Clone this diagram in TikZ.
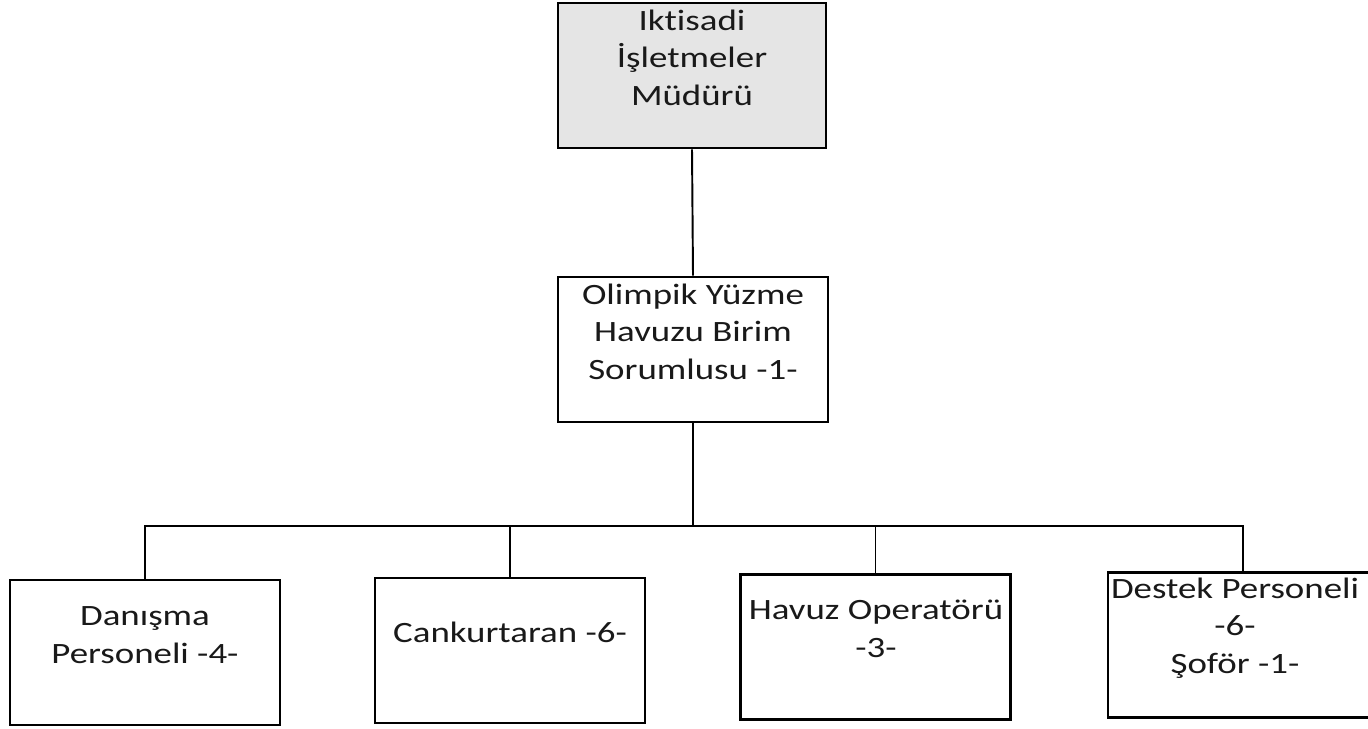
\documentclass[tikz,border=0pt]{standalone}
\usepackage{fontspec}
\setmainfont{Carlito}[FakeStretch=1.25,Ligatures={NoCommon}]
\usetikzlibrary{positioning}

\begin{document}
\begin{tikzpicture}[x=0.02cm,y=-0.02cm]
\tikzstyle{unit}=[
  rectangle,
  draw,
  line width=1.5pt,
  minimum width=5.4cm,
  minimum height=2.9cm,
  inner sep=0pt ]
\tikzstyle{caption}=[
  align=center,
  inner sep=0pt,
  anchor=base,
  text=black!90,
  font=\fontsize{16.8}{21.3}\selectfont ]
\tikzstyle{link}=[line width=1.1pt]
\useasboundingbox (0,0) rectangle (1368,728);
\clip (0,0) rectangle (1368,728);
% kutular
\node[unit, fill=black!10, minimum width=5.36cm] (mudur) at (692,75.5) {};
\node[unit] (sorumlu) at (693,349.5) {};
\node[unit] (danisma) at (145,652.5) {};
\node[unit] (cankurtaran) at (510,650.5) {};
\node[unit] (operator) at (875.5,647) {};
\node[unit] (destek) at (1243,645) {};
% yazilar (son satirin tabani)
\node[caption] (mudurT) at (692,105) {Iktisadi\\İşletmeler\\Müdürü};
\node[caption] (sorumluT) at (693,379) {Olimpik Yüzme\\Havuzu Birim\\Sorumlusu -1-};
\node[caption] (danismaT) at (145,663) {Danışma\\Personeli -4-};
\node[caption] (cankurtaranT) at (510,642) {Cankurtaran -6-};
\node[caption] (operatorT) at (876,657) {Havuz Operatörü\\-3-};
\node[caption] (destekT) at (1235,673) {Destek Personeli\\-6-\\Şoför -1-};
% baglantilar
\coordinate (bus) at (0,526);
\draw[link] (mudur.south) -- (sorumlu.north);
\draw[link] (sorumlu.south) -- (sorumlu.south |- bus);
\draw[link] (danisma.north) -- (danisma.north |- bus) -- (destek.north |- bus) -- (destek.north);
\foreach \n in {cankurtaran,operator}
  \draw[link] (\n.north) -- (\n.north |- bus);
\end{tikzpicture}
\end{document}
